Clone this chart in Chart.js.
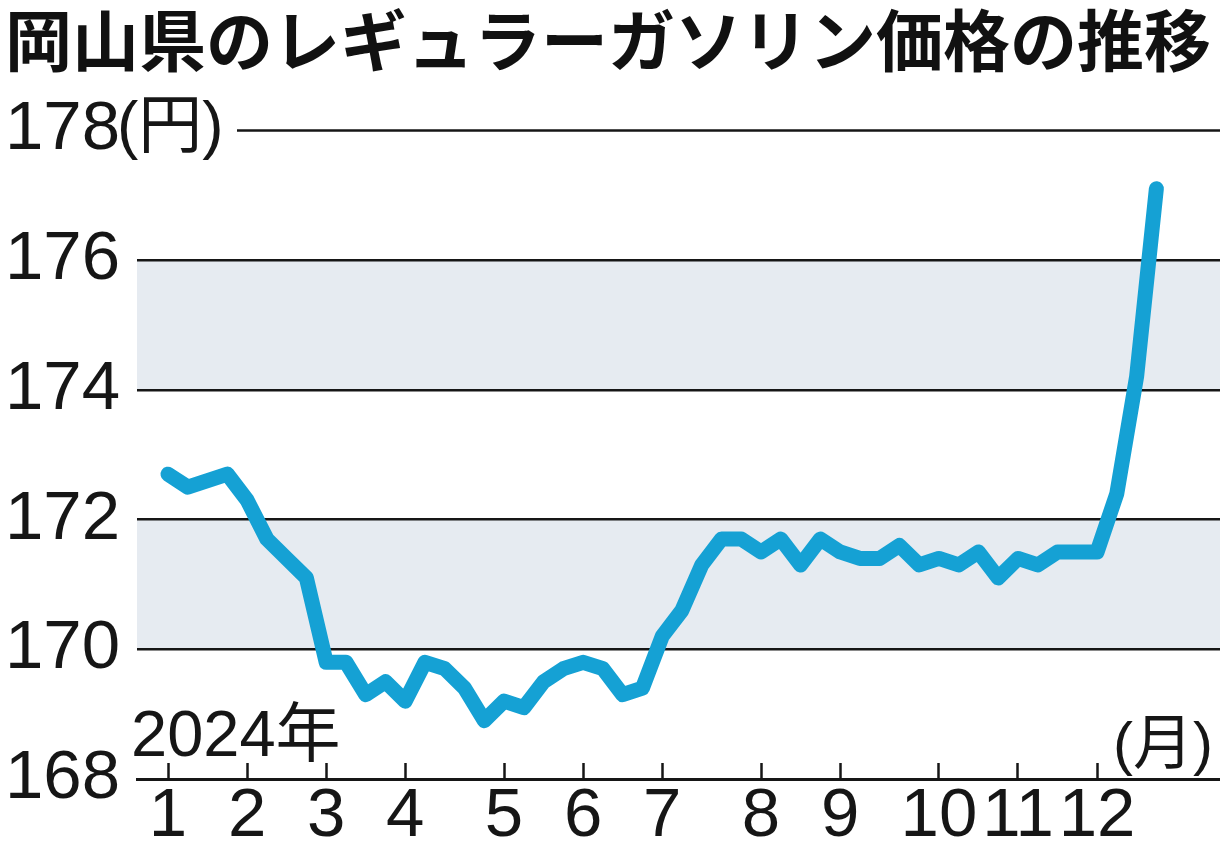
<!DOCTYPE html>
<html lang="ja">
<head>
<meta charset="utf-8">
<title>岡山県のレギュラーガソリン価格の推移</title>
<script src="https://cdn.jsdelivr.net/npm/chart.js@4.4.1/dist/chart.umd.min.js"></script>
<style>
    html, body { margin: 0; padding: 0; background: #fff; }
    #priceChart { display: block; }
</style>
</head>
<body>
<canvas id="priceChart" width="1220" height="843"></canvas>
<script>
// weekly survey dates (2024) and Okayama regular gasoline price, yen per litre
const weekDates = [
    '1/9', '1/15', '1/22', '1/29',
    '2/5', '2/13', '2/19', '2/26',
    '3/4', '3/11', '3/18', '3/25',
    '4/1', '4/8', '4/15', '4/22', '4/30',
    '5/7', '5/13', '5/20', '5/27',
    '6/3', '6/10', '6/17', '6/24',
    '7/1', '7/8', '7/16', '7/22', '7/29',
    '8/5', '8/13', '8/19', '8/26',
    '9/2', '9/9', '9/17', '9/24', '9/30',
    '10/7', '10/15', '10/21', '10/28',
    '11/5', '11/11', '11/18', '11/25',
    '12/2', '12/9', '12/16', '12/23'
];
const prices = [
    172.7, 172.5, 172.6, 172.7,
    172.3, 171.7, 171.4, 171.1,
    169.8, 169.8, 169.3, 169.5,
    169.2, 169.8, 169.7, 169.4, 168.9,
    169.2, 169.1, 169.5, 169.7,
    169.8, 169.7, 169.3, 169.4,
    170.2, 170.6, 171.3, 171.7, 171.7,
    171.5, 171.7, 171.3, 171.7,
    171.5, 171.4, 171.4, 171.6, 171.3,
    171.4, 171.3, 171.5, 171.1,
    171.4, 171.3, 171.5, 171.5,
    171.5, 172.4, 174.2, 177.1
];
const yTicks = [168, 170, 172, 174, 176, 178];
const shadedBands = [[170, 172], [174, 176]];

const titleText = '岡山県のレギュラーガソリン価格の推移';
const yearText = '2024年';
const yUnitText = '(円)';
const xUnitText = '(月)';

const NUM_FONT = '"Liberation Sans", Arial, "Noto Sans CJK JP", sans-serif';
const JP_FONT = '"Noto Sans CJK JP", "Noto Sans", sans-serif';
const INK = '#161616';

document.addEventListener('DOMContentLoaded', function () {
    // first survey week of each month gets a tick
    const monthStarts = [];
    weekDates.forEach(function (d, i) {
        const m = d.split('/')[0];
        if (i === 0 || weekDates[i - 1].split('/')[0] !== m) monthStarts.push(i);
    });

    const points = prices.map(function (v, i) { return { x: i, y: v }; });

    const decorPlugin = {
        id: 'decor',
        beforeDraw: function (chart) {
            const ctx = chart.ctx;
            const area = chart.chartArea;
            const y = chart.scales.y;
            ctx.save();
            ctx.fillStyle = '#e6ebf1';
            shadedBands.forEach(function (b) {
                const top = y.getPixelForValue(b[1]);
                const bottom = y.getPixelForValue(b[0]);
                ctx.fillRect(area.left, top, area.right - area.left, bottom - top);
            });
            ctx.restore();
        },
        afterDraw: function (chart) {
            const ctx = chart.ctx;
            const area = chart.chartArea;
            const y = chart.scales.y;
            const topY = y.getPixelForValue(yTicks[yTicks.length - 1]);
            ctx.save();
            // top gridline starts after the unit label
            ctx.strokeStyle = INK;
            ctx.lineWidth = 2.5;
            ctx.beginPath();
            ctx.moveTo(237, topY);
            ctx.lineTo(area.right, topY);
            ctx.stroke();

            ctx.fillStyle = INK;
            ctx.textBaseline = 'middle';
            ctx.textAlign = 'left';
            ctx.font = '64px ' + NUM_FONT;
            ctx.fillText(yUnitText, 117, topY - 1);

            ctx.textBaseline = 'alphabetic';
            ctx.font = '65px ' + NUM_FONT;
            ctx.fillText(yearText, 131, 756);

            ctx.textAlign = 'right';
            ctx.font = '60px ' + NUM_FONT;
            ctx.fillText(xUnitText, 1213, 764);
            ctx.restore();
        }
    };

    const canvas = document.getElementById('priceChart');
    new Chart(canvas.getContext('2d'), {
        type: 'line',
        data: {
            datasets: [{
                label: 'レギュラーガソリン',
                data: points,
                borderColor: '#15a1d4',
                borderWidth: 15,
                borderJoinStyle: 'round',
                borderCapStyle: 'round',
                pointRadius: 0,
                tension: 0,
                fill: false
            }]
        },
        options: {
            responsive: false,
            devicePixelRatio: 1,
            animation: false,
            layout: { padding: { left: 5, right: 0, top: 0, bottom: 0 } },
            plugins: {
                legend: { display: false },
                tooltip: { enabled: false },
                title: {
                    display: true,
                    text: titleText,
                    align: 'start',
                    color: '#111',
                    font: { family: JP_FONT, size: 67, weight: 'bold', lineHeight: 1.2 },
                    padding: { top: 0, bottom: 50 }
                }
            },
            scales: {
                x: {
                    type: 'linear',
                    min: -1.57,
                    max: 53.22,
                    afterBuildTicks: function (scale) {
                        scale.ticks = monthStarts.map(function (i) { return { value: i }; });
                    },
                    afterFit: function (scale) { scale.height = 64; },
                    grid: {
                        display: true,
                        drawOnChartArea: false,
                        drawTicks: true,
                        tickLength: -16,
                        tickWidth: 2.5,
                        tickColor: INK
                    },
                    border: { display: true, color: INK, width: 3 },
                    ticks: {
                        autoSkip: false,
                        maxRotation: 0,
                        padding: 19,
                        color: INK,
                        font: { family: NUM_FONT, size: 69, lineHeight: 1 },
                        callback: function (value) {
                            return weekDates[value] ? weekDates[value].split('/')[0] : '';
                        }
                    }
                },
                y: {
                    min: yTicks[0],
                    max: yTicks[yTicks.length - 1],
                    afterBuildTicks: function (scale) {
                        scale.ticks = yTicks.map(function (v) { return { value: v }; });
                    },
                    afterFit: function (scale) { scale.width = 132; },
                    border: { display: false },
                    grid: {
                        drawTicks: false,
                        lineWidth: 2.5,
                        color: function (c) {
                            const v = c.tick ? c.tick.value : null;
                            return (v === yTicks[0] || v === yTicks[yTicks.length - 1]) ? 'rgba(0,0,0,0)' : INK;
                        }
                    },
                    ticks: {
                        crossAlign: 'far',
                        color: INK,
                        font: { family: NUM_FONT, size: 69, lineHeight: 1 }
                    }
                }
            }
        },
        plugins: [decorPlugin]
    });
});
</script>
</body>
</html>
